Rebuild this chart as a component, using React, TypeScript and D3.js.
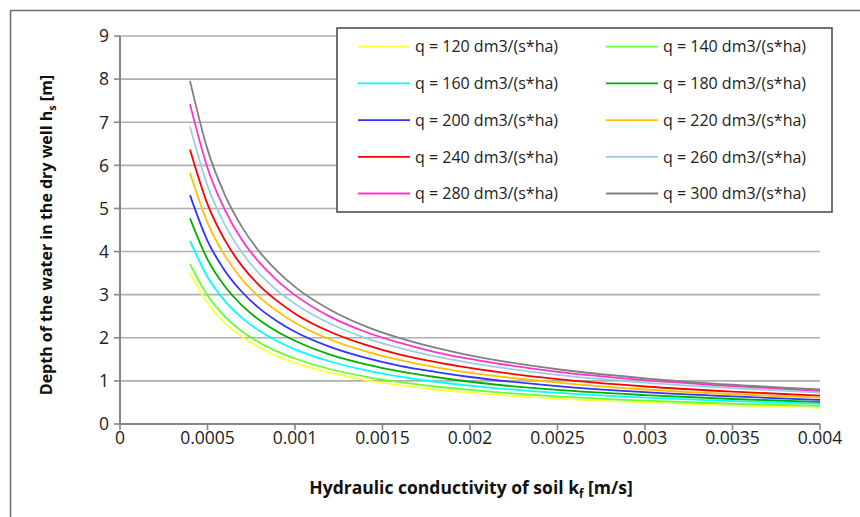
import React from "react";
import * as d3 from "d3";

const kfValues = [0.0004, 0.0005, 0.0006, 0.0007, 0.0008, 0.0009, 0.001, 0.0012, 0.0014, 0.0016, 0.0018, 0.002, 0.0025, 0.003, 0.0035, 0.004];

const seriesLabels = [
  "q = 120 dm3/(s*ha)", "q = 140 dm3/(s*ha)", "q = 160 dm3/(s*ha)", "q = 180 dm3/(s*ha)",
  "q = 200 dm3/(s*ha)", "q = 220 dm3/(s*ha)", "q = 240 dm3/(s*ha)", "q = 260 dm3/(s*ha)",
  "q = 280 dm3/(s*ha)", "q = 300 dm3/(s*ha)",
];
const seriesColors = ["#ffff40", "#66ff33", "#00ffff", "#00b000", "#3333ff", "#ffc000", "#ff0000", "#9bcfe0", "#ff33cc", "#808080"];

const q120 = [3.50, 2.81, 2.34, 2.01, 1.77, 1.57, 1.42, 1.19, 1.02, 0.90, 0.80, 0.73, 0.59, 0.50, 0.43, 0.38];
const q140 = [3.71, 2.98, 2.49, 2.14, 1.88, 1.68, 1.52, 1.27, 1.10, 0.97, 0.87, 0.79, 0.64, 0.54, 0.47, 0.42];
const q160 = [4.25, 3.41, 2.85, 2.45, 2.15, 1.92, 1.73, 1.45, 1.25, 1.10, 0.98, 0.89, 0.72, 0.61, 0.53, 0.47];
const q180 = [4.77, 3.82, 3.19, 2.74, 2.40, 2.14, 1.93, 1.61, 1.39, 1.22, 1.09, 0.98, 0.79, 0.67, 0.58, 0.51];
const q200 = [5.31, 4.25, 3.55, 3.05, 2.67, 2.38, 2.14, 1.79, 1.54, 1.35, 1.21, 1.09, 0.88, 0.74, 0.64, 0.56];
const q220 = [5.83, 4.67, 3.90, 3.34, 2.93, 2.61, 2.35, 1.96, 1.69, 1.48, 1.32, 1.19, 0.96, 0.80, 0.69, 0.61];
const q240 = [6.37, 5.10, 4.26, 3.65, 3.20, 2.85, 2.56, 2.14, 1.84, 1.61, 1.44, 1.30, 1.04, 0.87, 0.75, 0.66];
const q260 = [6.90, 5.53, 4.62, 3.96, 3.47, 3.09, 2.79, 2.33, 2.00, 1.76, 1.57, 1.42, 1.14, 0.96, 0.83, 0.73];
const q280 = [7.42, 5.94, 4.96, 4.25, 3.73, 3.32, 2.99, 2.49, 2.14, 1.88, 1.67, 1.51, 1.21, 1.02, 0.88, 0.77];
const q300 = [7.96, 6.37, 5.31, 4.55, 3.98, 3.54, 3.18, 2.65, 2.27, 1.99, 1.77, 1.59, 1.27, 1.06, 0.91, 0.80];

const allSeries = [q120, q140, q160, q180, q200, q220, q240, q260, q280, q300];

const xTicks = [0, 0.0005, 0.001, 0.0015, 0.002, 0.0025, 0.003, 0.0035, 0.004];
const xTickLabels = ["0", "0.0005", "0.001", "0.0015", "0.002", "0.0025", "0.003", "0.0035", "0.004"];
const yTicks = [0, 1, 2, 3, 4, 5, 6, 7, 8, 9];

const FONT = "'Open Sans', 'Noto Sans', sans-serif";

export default function App() {
  const W = 860, H = 517;
  const x = d3.scaleLinear().domain([0, 0.004]).range([120, 820]);
  const y = d3.scaleLinear().domain([0, 9]).range([424, 36]);
  const line = d3.line<number>().x((_, i) => x(kfValues[i])).y((d) => y(d)).curve(d3.curveMonotoneX);

  const legX = 337, legY = 28, legW = 495, legH = 184;
  const rowH = 36.7;

  return (
    <svg width={W} height={H} style={{ position: "absolute", left: 0, top: 0, background: "#fff" }}>
      <rect x={0} y={0} width={W} height={H} fill="#fff" />
      <path d={`M10.5,${H} V10.5 H${W}`} fill="none" stroke="#6e6e6e" strokeWidth={1.5} />
      {yTicks.filter((t) => t > 0).map((t) => (
        <line key={t} x1={120} x2={820} y1={y(t)} y2={y(t)} stroke="#b0b0b0" strokeWidth={1.6} />
      ))}
      <line x1={120} x2={120} y1={y(9)} y2={y(0)} stroke="#868686" strokeWidth={2} />
      <line x1={120} x2={820} y1={y(0)} y2={y(0)} stroke="#868686" strokeWidth={2} />
      {yTicks.map((t) => (
        <g key={t}>
          <line x1={114} x2={120} y1={y(t)} y2={y(t)} stroke="#868686" strokeWidth={1.6} />
          <text x={109} y={y(t)} dy="0.36em" textAnchor="end" fontFamily={FONT} fontSize={17.5} fill="#222">{t}</text>
        </g>
      ))}
      {xTicks.map((t, i) => (
        <g key={t}>
          <line x1={x(t)} x2={x(t)} y1={y(0)} y2={y(0) + 6} stroke="#868686" strokeWidth={1.6} />
          <text x={x(t)} y={444} textAnchor="middle" fontFamily={FONT} fontSize={17.5} fill="#222">{xTickLabels[i]}</text>
        </g>
      ))}
      {allSeries.map((s, i) => (
        <path key={i} d={line(s) || ""} fill="none" stroke={seriesColors[i]} strokeWidth={1.8} />
      ))}
      <text x={471} y={494} textAnchor="middle" fontFamily={FONT} fontSize={17.5} fontWeight="bold" fill="#111">
        Hydraulic conductivity of soil k<tspan fontSize={11.5} dy={4}>f</tspan><tspan dy={-4}> [m/s]</tspan>
      </text>
      <text transform={`translate(52,235) rotate(-90)`} textAnchor="middle" fontFamily={FONT} fontSize={16} fontWeight="bold" fill="#111">
        Depth of the water in the dry well h<tspan fontSize={11} dy={4}>s</tspan><tspan dy={-4}> [m]</tspan>
      </text>
      <rect x={legX} y={legY} width={legW} height={legH} fill="#fff" stroke="#444" strokeWidth={1.5} />
      {seriesLabels.map((lab, i) => {
        const col = i % 2;
        const row = Math.floor(i / 2);
        const cy = 46.7 + row * rowH;
        const lx = col === 0 ? 358 : 606;
        return (
          <g key={lab}>
            <line x1={lx} x2={lx + 52} y1={cy} y2={cy} stroke={seriesColors[i]} strokeWidth={1.8} />
            <text x={lx + 57} y={cy} dy="0.36em" fontFamily={FONT} fontSize={16} fill="#222">{lab}</text>
          </g>
        );
      })}
    </svg>
  );
}
